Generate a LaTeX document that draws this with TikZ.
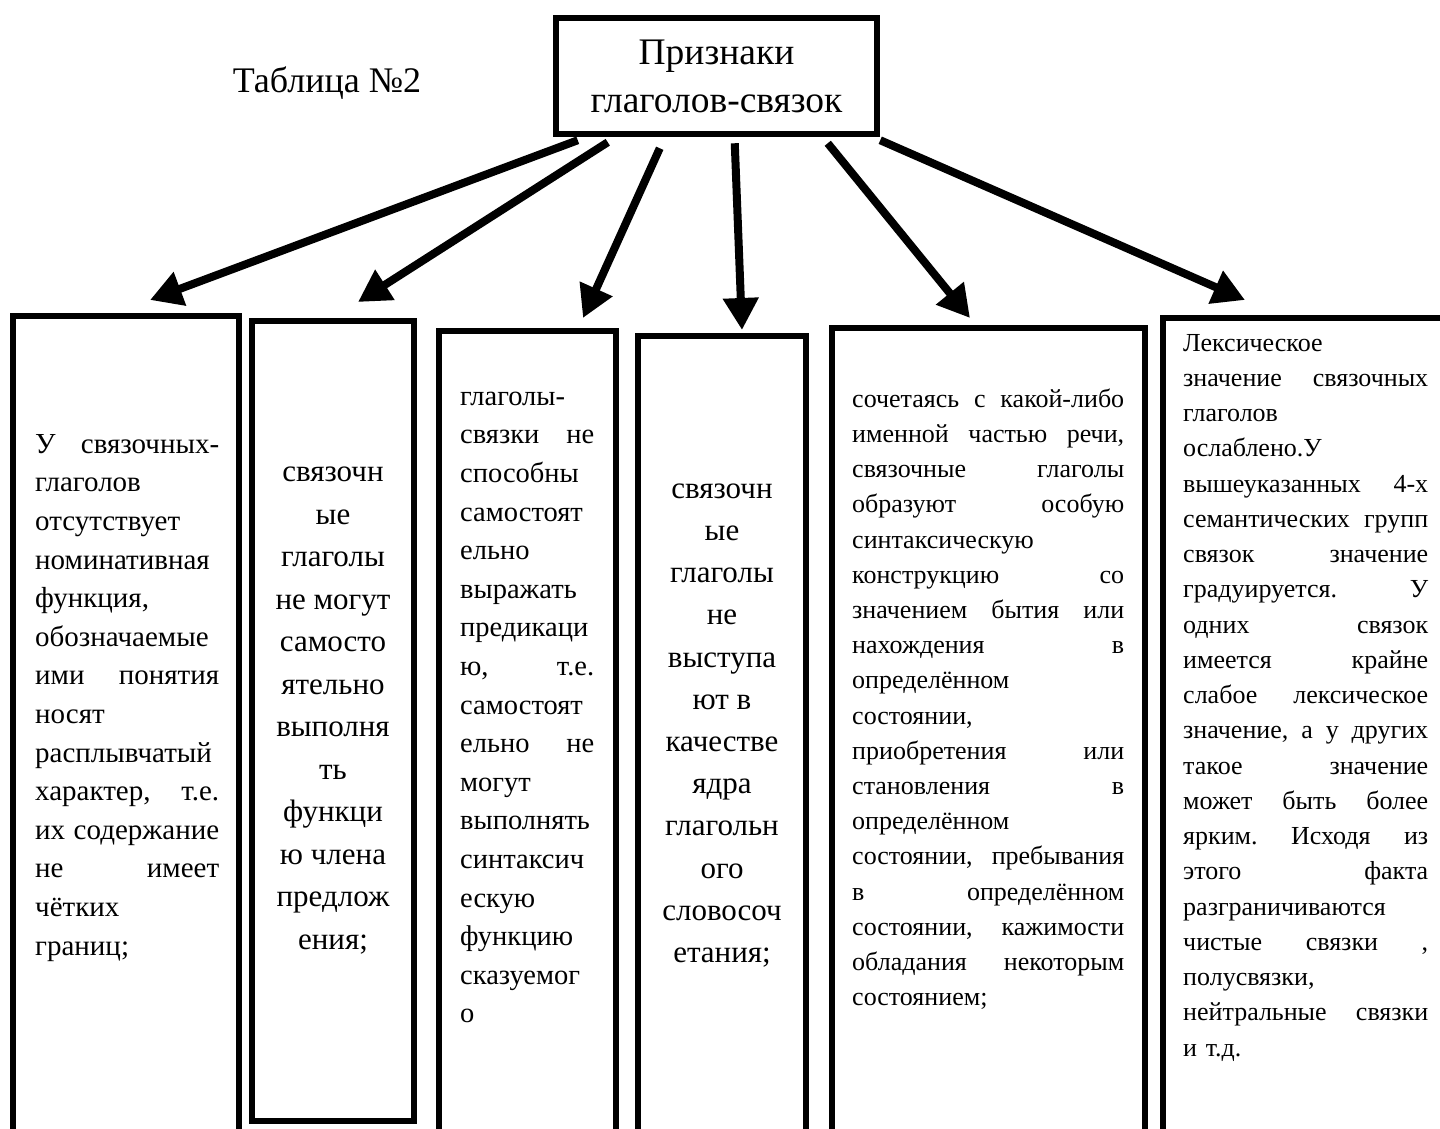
\documentclass[tikz,border=0pt]{standalone}
\usepackage{fontspec}
\setmainfont{Liberation Serif}
\usepackage{tikz}
\usetikzlibrary{arrows.meta, positioning, calc}
\newcommand{\stretchgap}{\hskip 0pt plus 1filll\relax}

\begin{document}
\begin{tikzpicture}[x=1pt, y=-1pt,
  frame/.style={draw=black, line width=6pt, inner sep=0pt},
  sign/.style={inner sep=0pt, anchor=north west, align=left},
  signc/.style={inner sep=0pt, anchor=north, align=center},
  arr/.style={line width=8pt, -{Triangle[length=32pt, width=34pt]}}]

\clip (0,0) rectangle (1440,1128);

% Heading box and table label
\node[frame, line width=6.5pt, minimum width=321pt, minimum height=116pt, align=center, font=\fontsize{37.5}{48}\selectfont] (head) at (716.5,76) {Признаки\\глаголов-связок};
\node[font=\fontsize{36}{43}\selectfont, anchor=base] (tablabel) at (327,92) {Таблица №2};

% Feature boxes
\foreach \n/\x/\y/\w/\h in {1/126/738/226/844, 2/333/721/162/800, 3/527.5/745.5/177/829, 4/722/748/168/824, 5/988.5/744/313/832, 6/1311.5/739/297/842}
  \node[frame, minimum width=\w pt, minimum height=\h pt] (b\n) at (\x,\y) {};

% Arrows from the heading
\draw[arr] ([xshift=25pt, yshift=-3pt]head.south west) -- ([xshift=140pt, yshift=13pt]b1.north west);
\draw[arr] ([xshift=55pt, yshift=-5pt]head.south west) -- ([xshift=109pt, yshift=16pt]b2.north west);
\draw[arr] ([xshift=107pt, yshift=-11pt]head.south west) -- ([xshift=147pt, yshift=10pt]b3.north west);
\draw[arr] ([xshift=182pt, yshift=-6pt]head.south west) -- ([xshift=20pt, yshift=3pt]b4.north);
\draw[arr] ([xshift=275pt, yshift=-6pt]head.south west) -- ([xshift=141pt, yshift=7pt]b5.north west);
\draw[arr] ([yshift=-3pt]head.south east) -- ([xshift=85pt, yshift=15pt]b6.north west);

% Box texts
\node[sign, text width=184pt, font=\fontsize{29}{38.6}\selectfont] (t1) at (35,426) {\strut У\stretchgap связочных-\\глаголов\\отсутствует\\номинативная\\функция,\\обозначаемые\\ими\stretchgap понятия\\носят\\расплывчатый\\характер,\stretchgap т.е.\\их\stretchgap содержание\\не\stretchgap имеет\\чётких\\границ;};
\node[signc, font=\fontsize{31}{42.5}\selectfont] (t2) at (333,452) {\strut связочн\\ые\\глаголы\\не могут\\самосто\\ятельно\\выполня\\ть\\функци\\ю члена\\предлож\\ения;};
\node[sign, text width=134pt, font=\fontsize{28.5}{38.6}\selectfont] (t3) at (460,378) {\strut глаголы-\\связки\stretchgap не\\способны\\самостоят\\ельно\\выражать\\предикаци\\ю,\stretchgap т.е.\\самостоят\\ельно\stretchgap не\\могут\\выполнять\\синтаксич\\ескую\\функцию\\сказуемог\\о};
\node[signc, font=\fontsize{31}{42.2}\selectfont] (t4) at (722,468.5) {\strut связочн\\ые\\глаголы\\не\\выступа\\ют в\\качестве\\ядра\\глагольн\\ого\\словосоч\\етания;};
\node[sign, text width=272pt, font=\fontsize{26}{35.2}\selectfont] (t5) at (852,382.4) {\strut сочетаясь\stretchgap с\stretchgap какой-либо\\именной\stretchgap частью\stretchgap речи,\\связочные\stretchgap глаголы\\образуют\stretchgap особую\\синтаксическую\\конструкцию\stretchgap со\\значением\stretchgap бытия\stretchgap или\\нахождения\stretchgap в\\определённом\\состоянии,\\приобретения\stretchgap или\\становления\stretchgap в\\определённом\\состоянии,\stretchgap пребывания\\в\stretchgap определённом\\состоянии,\stretchgap кажимости\\обладания\stretchgap некоторым\\состоянием;};
\node[sign, text width=245pt, font=\fontsize{26}{35.25}\selectfont] (t6) at (1183,326.3) {\strut Лексическое\\значение\stretchgap связочных\\глаголов\\ослаблено.У\\вышеуказанных\stretchgap 4-х\\семантических\stretchgap групп\\связок\stretchgap значение\\градуируется.\stretchgap У\\одних\stretchgap связок\\имеется\stretchgap крайне\\слабое\stretchgap лексическое\\значение,\stretchgap а\stretchgap у\stretchgap других\\такое\stretchgap значение\\может\stretchgap быть\stretchgap более\\ярким.\stretchgap Исходя\stretchgap из\\этого\stretchgap факта\\разграничиваются\\чистые\stretchgap связки\stretchgap ,\\полусвязки,\\нейтральные\stretchgap связки\\и т.д.};

\end{tikzpicture}
\end{document}
